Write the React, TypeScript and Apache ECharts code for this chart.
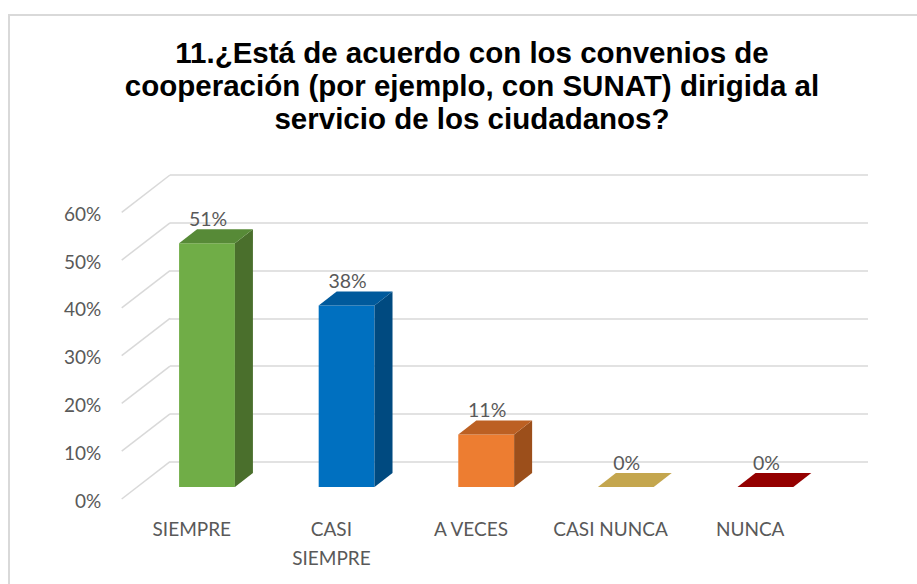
import React, { useEffect, useRef } from "react";
import * as echarts from "echarts";

const titleLines = [
  "11.¿Está de acuerdo con los convenios de",
  "cooperación (por ejemplo, con SUNAT) dirigida al",
  "servicio de los ciudadanos?",
];
const categories = ["SIEMPRE", "CASI SIEMPRE", "A VECES", "CASI NUNCA", "NUNCA"];
const values = [0.51, 0.38, 0.11, 0, 0];
const valueLabels = ["51%", "38%", "11%", "0%", "0%"];
const yTicks = [0, 0.1, 0.2, 0.3, 0.4, 0.5, 0.6];
const yTickLabels = ["0%", "10%", "20%", "30%", "40%", "50%", "60%"];
const frontColors = ["#70AD47", "#0070C0", "#ED7D31", "#D4B35A", "#A00000"];
const topColors = ["#578A37", "#005A9C", "#BC6023", "#C4A64E", "#940000"];
const sideColors = ["#4A6F2C", "#004A80", "#9C4F1B", "#A88C3E", "#780000"];

const FONT = "Lato, 'Open Sans', sans-serif";
const GRID_COLOR = "#d9d9d9";

export default function App() {
  const ref = useRef<HTMLDivElement>(null);
  useEffect(() => {
    if (!ref.current) return;
    const chart = echarts.init(ref.current, null, { renderer: "svg" });
    // projection constants for the 3D look
    const sx = -32.8, sy = 25.3; // back wall -> bar front face
    const dx = 18, dy = -14; // bar depth
    const fx = -48.3, fy = 37.3; // back wall -> floor front edge

    chart.setOption({
      animation: false,
      backgroundColor: "#ffffff",
      graphic: [
        {
          type: "rect",
          shape: { x: 9, y: 15, width: 1000, height: 1000 },
          style: { fill: "none", stroke: "#d9d9d9", lineWidth: 2 },
          silent: true,
        },
        {
          type: "text",
          x: 472,
          y: 36,
          style: {
            text: titleLines.join("\n"),
            fontFamily: "'Liberation Sans', Arial, sans-serif",
            fontWeight: "bold",
            fontSize: 29.5,
            lineHeight: 33,
            fill: "#000000",
            align: "center",
            verticalAlign: "top",
          },
        },
      ],
      grid: { left: 170, right: 49, top: 175, bottom: 122.3 },
      xAxis: {
        type: "category",
        data: categories,
        axisLine: { show: false },
        axisTick: { show: false },
        splitLine: { show: false },
        axisLabel: {
          interval: 0,
          margin: 52,
          padding: [0, 96, 0, 0],
          color: "#595959",
          fontFamily: FONT,
          fontSize: 19,
          lineHeight: 29,
          formatter: (v: string) => (v === "CASI SIEMPRE" ? "CASI\nSIEMPRE" : v),
        },
      },
      yAxis: {
        type: "value",
        min: 0,
        max: 0.6,
        interval: 0.1,
        axisLine: { show: false },
        axisTick: { show: false },
        splitLine: { show: true, lineStyle: { color: GRID_COLOR, width: 1.5 } },
        axisLabel: { show: false },
      },
      series: [
        {
          type: "custom",
          clip: false,
          z: 1,
          silent: true,
          data: yTicks.map((v, k) => [0, v, k]),
          renderItem: (params: any, api: any) => {
            const p = api.coord([0, api.value(1)]);
            const k = api.value(2);
            const left = p[0] - api.size([1, 0])[0] / 2;
            return {
              type: "group",
              children: [
                {
                  type: "line",
                  shape: { x1: left, y1: p[1], x2: left + fx, y2: p[1] + fy },
                  style: { stroke: GRID_COLOR, lineWidth: 1.5 },
                },
                {
                  type: "text",
                  style: {
                    text: yTickLabels[k],
                    x: left + fx - 20.5,
                    y: p[1] + fy + 1,
                    align: "right",
                    verticalAlign: "middle",
                    fontFamily: FONT,
                    fontSize: 19,
                    fill: "#595959",
                  },
                },
              ],
            };
          },
        },
        {
          type: "custom",
          clip: false,
          z: 2,
          silent: true,
          data: values.map((v, i) => [i, v]),
          renderItem: (params: any, api: any) => {
            const i = api.value(0);
            const v = api.value(1);
            const c0 = api.coord([i, 0]);
            const cv = api.coord([i, v]);
            const band = api.size([1, 0])[0];
            const w = band * 0.4;
            const x0 = c0[0] + sx - w / 2;
            const x1 = x0 + w;
            const yBot = c0[1] + sy;
            const yTop = cv[1] + sy;
            const children: any[] = [];
            if (yBot - yTop > 0.5) {
              children.push({
                type: "rect",
                shape: { x: x0, y: yTop, width: w, height: yBot - yTop },
                style: { fill: frontColors[i] },
              });
              children.push({
                type: "polygon",
                shape: {
                  points: [
                    [x1, yTop],
                    [x1, yBot],
                    [x1 + dx, yBot + dy],
                    [x1 + dx, yTop + dy],
                  ],
                },
                style: { fill: sideColors[i] },
              });
            }
            children.push({
              type: "polygon",
              shape: {
                points: [
                  [x0, yTop],
                  [x1, yTop],
                  [x1 + dx, yTop + dy],
                  [x0 + dx, yTop + dy],
                ],
              },
              style: { fill: topColors[i] },
            });
            children.push({
              type: "text",
              style: {
                text: valueLabels[i],
                x: x0 + w / 2 + 1,
                y: yTop - 24.5,
                align: "center",
                verticalAlign: "middle",
                fontFamily: FONT,
                fontSize: 19.5,
                fill: "#595959",
              },
            });
            return { type: "group", children };
          },
        },
      ],
    });
    return () => chart.dispose();
  }, []);
  return (
    <div
      ref={ref}
      style={{ position: "fixed", left: 0, top: 0, width: 917, height: 584, background: "#fff" }}
    />
  );
}
